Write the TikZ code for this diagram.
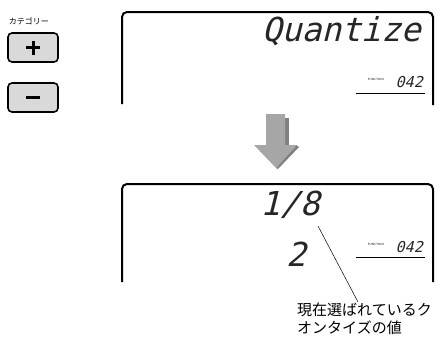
\documentclass[tikz,border=0pt]{standalone}
\usepackage{fontspec}
\newfontfamily\cjk{Noto Sans CJK JP}
\newfontfamily\lcd{DejaVu Sans Mono}[FakeSlant=0.25]
\begin{document}
\begin{tikzpicture}[x=1pt,y=-1pt,
  display/.style={line width=2pt,rounded corners=5pt},
  keybox/.style={draw,line width=1.6pt,fill=black!15,rounded corners=4pt,minimum width=50pt,minimum height=29pt,inner sep=0pt},
  keysign/.style={line width=3pt},
  lcdtext/.style={font=\lcd\fontsize{33}{33}\selectfont,inner sep=0pt,text=black!85},
  fntext/.style={font=\sffamily\fontsize{3}{3}\selectfont,inner sep=0pt},
  numtext/.style={font=\lcd\fontsize{15}{15}\selectfont,inner sep=0pt,text=black!85},
  jtext/.style={font=\cjk\fontsize{15}{18}\selectfont,inner sep=0pt,align=left}]
\useasboundingbox (0,0) rectangle (442,343);
% left keys
\node[font=\cjk\fontsize{8}{8}\selectfont,inner sep=0pt] (cat) at (29,21) {カテゴリー};
\node[keybox] (plus) at (33,47.5) {};
\node[keybox] (minus) at (33,97.5) {};
\draw[keysign] ([xshift=-7pt]plus.center) -- ([xshift=7pt]plus.center);
\draw[keysign] ([yshift=-7pt]plus.center) -- ([yshift=7pt]plus.center);
\draw[keysign] ([xshift=-7pt]minus.center) -- ([xshift=7pt]minus.center);
% top display
\draw[display] (122,104) -- (122,12) -- (433,12) -- (433,105);
\node[lcdtext,anchor=east] (q) at (421,31) {Quantize};
\node[fntext,anchor=east] (fn1) at (384,79) {FUNCTION};
\node[numtext,anchor=east] (n1) at (423,82) {042};
\draw[line width=0.8pt] (356,93) -- (425,93);
% arrow
\fill[black!50] (284,118) -- (289,118) -- (289,145) -- (284,145) -- cycle;
\fill[black!50] (296,145) -- (299,147) -- (278,169) -- (276,168) -- cycle;
\fill[black!35] (266,114) -- (285,114) -- (285,145) -- (297,145) -- (276,168) -- (254,145) -- (266,145) -- cycle;
% bottom display
\draw[display] (122,282) -- (122,184) -- (433,184) -- (433,282);
\node[lcdtext] (v1) at (290,205) {1/8};
\node[lcdtext] (v2) at (296,254) {2};
\node[fntext,anchor=east] (fn2) at (384,244) {FUNCTION};
\node[numtext,anchor=east] (n2) at (423,247) {042};
\draw[line width=0.8pt] (356,257) -- (425,257);
% leader
\node[jtext,anchor=north west] (lab) at (297,303) {現在選ばれているク\\オンタイズの値};
\coordinate (lt) at (318,226);
\coordinate (lb) at (358,302);
\draw[line width=0.5pt] (lt) -- (lb);
\end{tikzpicture}
\end{document}
